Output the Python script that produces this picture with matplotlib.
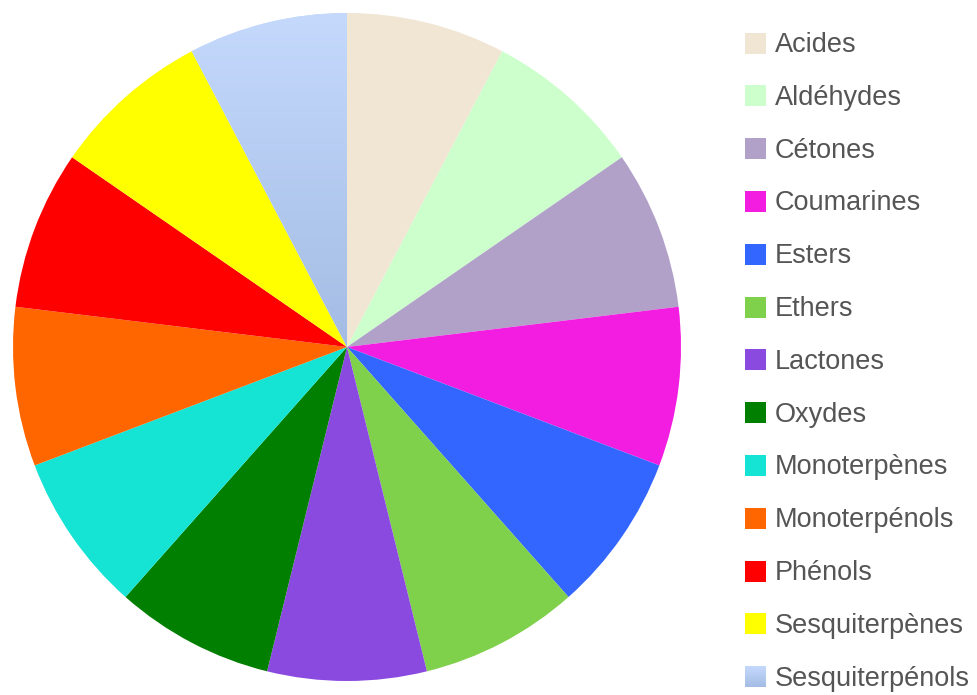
import matplotlib
matplotlib.use("Agg")
import matplotlib.pyplot as plt
import numpy as np
from matplotlib.colors import LinearSegmentedColormap
from matplotlib.patches import Rectangle

plt.rcParams['font.family'] = ['Liberation Sans', 'DejaVu Sans']

labels = ["Acides", "Aldéhydes", "Cétones", "Coumarines", "Esters", "Ethers",
          "Lactones", "Oxydes", "Monoterpènes", "Monoterpénols", "Phénols",
          "Sesquiterpènes", "Sesquiterpénols"]
values = [1, 1, 1, 1, 1, 1, 1, 1, 1, 1, 1, 1, 1]
colors = ["#F1E5D3", "#CCFFCC", "#B1A1C9", "#F21DE0", "#3366FF", "#7FD04A",
          "#8A4AE0", "#007F00", "#15E3D3", "#FF6600", "#FF0000", "#FFFF00",
          "#C4D9FC"]
grad_top, grad_bottom = "#C4D9FC", "#A4BCE4"

W, H = 977, 695
fig = plt.figure(figsize=(W / 100, H / 100), dpi=100)

# pie axes: center (347,347) px from top-left, radius 334
cx, cy, r = 347, 347, 334
ax = fig.add_axes([(cx - r) / W, (H - cy - r) / H, 2 * r / W, 2 * r / H])
wedges, _ = ax.pie(values, colors=colors, startangle=90, counterclock=False,
                   radius=1, wedgeprops=dict(linewidth=0))
ax.set_xlim(-1, 1)
ax.set_ylim(-1, 1)
ax.set_aspect('equal')
ax.axis('off')

cmap = LinearSegmentedColormap.from_list("g", [grad_bottom, grad_top])
grad = np.linspace(0, 1, 256).reshape(-1, 1)
last = wedges[-1]
bb = last.get_path().get_extents(last.get_patch_transform())
im = ax.imshow(grad, cmap=cmap, origin='lower', aspect='auto',
               extent=[bb.x0, bb.x1, bb.y0, bb.y1], zorder=3)
im.set_clip_path(last)
ax.set_xlim(-1, 1)
ax.set_ylim(-1, 1)

# legend
lax = fig.add_axes([0, 0, 1, 1])
lax.set_xlim(0, W)
lax.set_ylim(H, 0)
lax.axis('off')
y0, dy = 43, 52.8
sq = 21
for i, (lab, col) in enumerate(zip(labels, colors)):
    y = y0 + i * dy
    if i == len(labels) - 1:
        lax.imshow(grad[::-1], cmap=cmap, aspect='auto',
                   extent=[745, 745 + sq, y + sq / 2, y - sq / 2], zorder=3)
        lax.set_xlim(0, W)
        lax.set_ylim(H, 0)
    else:
        lax.add_patch(Rectangle((745, y - sq / 2), sq, sq, facecolor=col,
                                edgecolor='none'))
    lax.text(775, y + 2, lab, fontsize=19.5, color="#555555", va='center',
             ha='left')

fig.savefig("out.png", dpi=100)
